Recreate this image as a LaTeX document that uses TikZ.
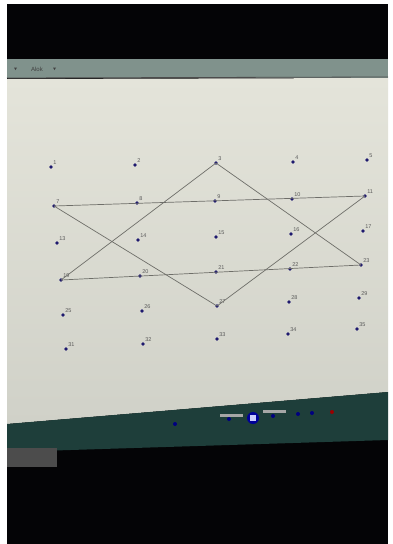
\documentclass[tikz,border=0pt]{standalone}
\usepackage{fontspec}
\setmainfont{Liberation Sans}
\begin{document}
\begin{tikzpicture}[x=1pt,y=-1pt,
  dot/.style={circle,fill=navy,inner sep=0pt,minimum size=3.8pt},
  lbl/.style={font=\fontsize{5.5}{6}\selectfont,text=labelgray,inner sep=0.6pt},
  seg/.style={draw=linegray,line width=0.7pt}]
\definecolor{navy}{RGB}{30,25,110}
\definecolor{labelgray}{RGB}{90,90,90}
\definecolor{linegray}{RGB}{110,110,105}
\definecolor{screen}{RGB}{228,228,218}
\definecolor{screenlow}{RGB}{208,209,200}
\definecolor{toolbar}{RGB}{128,146,140}
\definecolor{taskbar}{RGB}{30,62,58}
\definecolor{photoblack}{RGB}{4,4,6}
% frame
\useasboundingbox (0,0) rectangle (393,544);
\fill[white] (0,0) rectangle (393,544);
\fill[photoblack] (7,4) rectangle (388,544);
% toolbar
\fill[toolbar] (7,59) rectangle (388,78);
\draw[black!70,line width=0.8pt] (7,78) -- (388,77);
\node[font=\fontsize{6}{7}\selectfont,text=black!75] (tbtext) at (37,69) {Alok};
\fill[black!75] (14,67.5) -- (17,67.5) -- (15.5,70) -- cycle;
\fill[black!75] (53,67.5) -- (56,67.5) -- (54.5,70) -- cycle;
% screen
\shade[top color=screen,bottom color=screenlow] (7,79) -- (388,78) -- (388,392) -- (7,424) -- cycle;
% taskbar
\fill[taskbar] (7,424) -- (388,392) -- (388,440) -- (7,452) -- cycle;
\fill[gray!60!black] (7,448) rectangle (57,467);
\fill[blue!60!black] (253,418) circle (6);
\fill[white!80!blue] (250,415) rectangle (256,421);
\fill[gray!70] (220,414) rectangle (243,417);
\fill[gray!70] (263,410) rectangle (286,413);
\fill[blue!50!black] (175,424) circle (2);
\fill[blue!50!black] (229,419) circle (2);
\fill[blue!50!black] (273,416) circle (2);
\fill[blue!50!black] (298,414) circle (2);
\fill[blue!50!black] (312,413) circle (2);
\fill[red!60!black] (332,412) circle (2);
% points
\foreach \n/\x/\y in {1/51/167,2/135/165,3/216/163,4/293/162,5/367/160,
  7/54/206,8/137/203,9/215/201,10/292/199,11/365/196,
  13/57/243,14/138/240,15/216/237,16/291/234,17/363/231,
  19/61/280,20/140/276,21/216/272,22/290/269,23/361/265,
  25/63/315,26/142/311,27/217/306,28/289/302,29/359/298,
  31/66/349,32/143/344,33/217/339,34/288/334,35/357/329}
  \node[dot,label={[lbl,anchor=south west]north east:\n}] (p\n) at (\x,\y) {};
% connectors
\draw[seg] (p7.center) -- (p11.center);
\draw[seg] (p19.center) -- (p23.center);
\draw[seg] (p3.center) -- (p19.center);
\draw[seg] (p3.center) -- (p23.center);
\draw[seg] (p7.center) -- (p27.center);
\draw[seg] (p27.center) -- (p11.center);
\end{tikzpicture}
\end{document}
